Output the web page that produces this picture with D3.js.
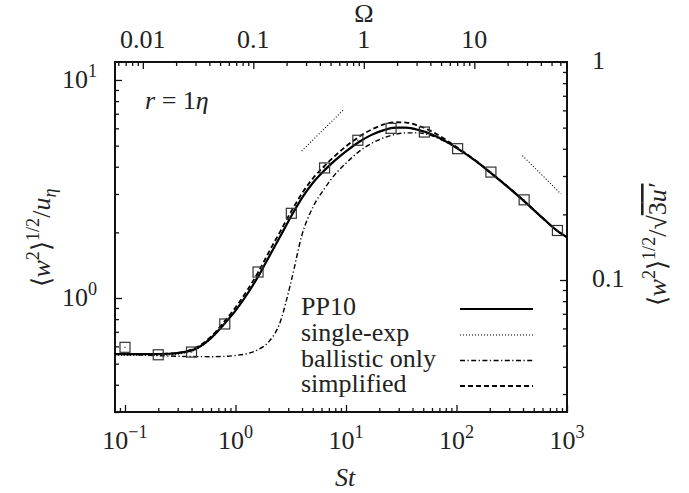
<!DOCTYPE html>
<html>
<head>
<meta charset="utf-8">
<script src="https://cdn.jsdelivr.net/npm/d3@7"></script>
<style>
  html, body { margin: 0; padding: 0; background: #fff; }
</style>
</head>
<body>
<svg id="chart" width="689" height="493"></svg>
<script>
// Stokes-number grid shared by the model curves
const stGrid = [0.0812, 0.15, 0.25, 0.4, 0.6, 0.8, 1.0, 1.3, 1.6, 2.0, 2.5, 3.2, 4.0, 5.0, 6.4, 8.0, 10,
                13, 17, 22, 28, 35, 45, 60, 80, 100, 150, 200, 300, 400, 600, 800, 1000];

// Model curves: <w^2>^{1/2}/u_eta at r = 1 eta
const pp10       = [0.553, 0.553, 0.555, 0.575, 0.655, 0.765, 0.875, 1.057, 1.253, 1.539, 1.889, 2.377, 2.88, 3.37, 3.86, 4.29, 4.71,
                    5.18, 5.60, 5.89, 6.04, 6.04, 5.90, 5.62, 5.23, 4.88, 4.24, 3.78, 3.19, 2.81, 2.33, 2.05, 1.90];
const singleExp  = [0.546, 0.546, 0.549, 0.569, 0.65, 0.762, 0.873, 1.055, 1.251, 1.537, 1.887, 2.375, 2.878, 3.368, 3.858, 4.288, 4.705,
                    5.17, 5.59, 5.88, 6.02, 6.02, 5.89, 5.62, 5.23, 4.88, 4.24, 3.78, 3.19, 2.81, 2.33, 2.05, 1.90];
const ballistic  = [0.552, 0.547, 0.542, 0.539, 0.538, 0.54, 0.545, 0.557, 0.58, 0.63, 0.76, 1.20, 1.95, 2.60, 3.18, 3.70, 4.15,
                    4.68, 5.12, 5.43, 5.63, 5.72, 5.72, 5.55, 5.20, 4.88, 4.24, 3.78, 3.19, 2.81, 2.33, 2.05, 1.90];
const simplified = [0.553, 0.553, 0.556, 0.58, 0.665, 0.785, 0.905, 1.10, 1.31, 1.62, 1.99, 2.50, 3.02, 3.53, 4.04, 4.50, 4.96,
                    5.47, 5.92, 6.25, 6.40, 6.38, 6.17, 5.80, 5.32, 4.93, 4.26, 3.79, 3.20, 2.81, 2.33, 2.05, 1.90];

// DNS data points
const dnsSt = [0.1, 0.2, 0.4, 0.8, 1.6, 3.2, 6.4, 12.8, 25.6, 51.2, 102.4, 204.8, 409.6, 819.2];
const dnsW  = [0.594, 0.549, 0.565, 0.76, 1.316, 2.446, 3.95, 5.29, 6.00, 5.77, 4.84, 3.78, 2.82, 2.04];

// Power-law guides: St^{1/2} and St^{-1/2}
const slopeUpSt = [3.97, 9.66],  slopeUpW = [4.72, 7.36];
const slopeDnSt = [395, 883],    slopeDnW = [4.5, 3.0];

// Axis tick labels
const stTicks = [0.1, 1, 10, 100, 1000];
const stTickExp = ["\u22121", "0", "1", "2", "3"];
const wTicks = [1, 10];
const wTickExp = ["0", "1"];
const omegaTicks = [0.01, 0.1, 1, 10];
const omegaLabels = ["0.01", "0.1", "1", "10"];
const rightTicks = [0.1, 1];
const rightLabels = ["0.1", "1"];

const legendNames = ["PP10", "single-exp", "ballistic only", "simplified"];

// Scale factors relating the secondary axes
const omegaRatio = 14.5;     // St / Omega
const rightRatio = 12.09;    // u_eta-normalised / sqrt(3)u'-normalised

// Pick the first installed serif face (falls back to the generic family)
function pickFont(candidates) {
  const ctx = document.createElement("canvas").getContext("2d");
  const probe = "ballistic only 0.01 PP10";
  ctx.font = "40px __nofont__, monospace";
  const base = ctx.measureText(probe).width;
  for (const name of candidates) {
    ctx.font = `40px "${name}", __nofont__, monospace`;
    if (Math.abs(ctx.measureText(probe).width - base) > 0.5) return `"${name}"`;
  }
  return "serif";
}
const FONT = pickFont(["Liberation Serif", "Tinos", "Times New Roman", "Times", "DejaVu Serif",
                       "Noto Serif", "FreeSerif", "Nimbus Roman", "Nimbus Roman No9 L", "serif"]);

const svg = d3.select("#chart");
const L = 115, R = 567, T = 62, B = 412;
const FS = 26;
const INK = "#222";

const x = d3.scaleLog().domain([0.0812, 1000]).range([L, R]);
const y = d3.scaleLog().domain([0.300, 12.09]).range([B, T]);
const yR = d3.scaleLog().domain([0.300 / rightRatio, 12.09 / rightRatio]).range([B, T]);
const xO = d3.scaleLog().domain([0.0812 / omegaRatio, 1000 / omegaRatio]).range([L, R]);

function minorTicks(scale) {
  const [a, b] = scale.domain();
  const out = [];
  for (let e = Math.floor(Math.log10(a)); e <= Math.ceil(Math.log10(b)); e++) {
    for (let m = 2; m <= 9; m++) {
      const v = m * Math.pow(10, e);
      if (v >= a && v <= b) out.push(v);
    }
  }
  return out;
}
function majorTicks(scale) {
  const [a, b] = scale.domain();
  const out = [];
  for (let e = Math.floor(Math.log10(a)); e <= Math.ceil(Math.log10(b)); e++) {
    const v = Math.pow(10, e);
    if (v >= a * 0.999 && v <= b * 1.001) out.push(v);
  }
  return out;
}

// Inward tick marks on all four sides
function drawTicks(axisFn, scale, transform) {
  const g1 = svg.append("g").attr("transform", transform)
    .call(axisFn(scale).tickValues(majorTicks(scale)).tickSize(-7).tickFormat(""));
  const g2 = svg.append("g").attr("transform", transform)
    .call(axisFn(scale).tickValues(minorTicks(scale)).tickSize(-4).tickFormat(""));
  [g1, g2].forEach(g => {
    g.select(".domain").remove();
    g.selectAll("line").attr("stroke", "#111").attr("stroke-width", 1.3);
  });
}
drawTicks(d3.axisBottom, x, `translate(0,${B})`);
drawTicks(d3.axisTop, xO, `translate(0,${T})`);
drawTicks(d3.axisLeft, y, `translate(${L},0)`);
drawTicks(d3.axisRight, yR, `translate(${R},0)`);

// Frame
svg.append("rect").attr("x", L).attr("y", T).attr("width", R - L).attr("height", B - T)
  .attr("fill", "none").attr("stroke", "#111").attr("stroke-width", 2);

function label(px, py, size) {
  return svg.append("text").attr("x", px).attr("y", py).attr("font-size", size)
    .style("font-family", FONT).attr("fill", INK);
}

// Text with super/subscripts
function rich(sel, parts, base) {
  let shift = 0;
  parts.forEach(p => {
    const target = p.sup ? -base * 0.42 : p.sub ? base * 0.22 : 0;
    const ts = sel.append("tspan").text(p.t).attr("dy", target - shift);
    shift = target;
    if (p.sup || p.sub) ts.attr("font-size", base * 0.7);
    if (p.it) ts.attr("font-style", "italic");
    if (p.over) ts.style("text-decoration", "overline");
  });
}

// Bottom St labels
stTicks.forEach((v, i) => {
  const t = label(x(v), 449, FS).attr("text-anchor", "middle");
  rich(t, [{t: "10"}, {t: stTickExp[i], sup: true}], FS);
});
label(345, 486, FS).attr("text-anchor", "middle").attr("font-style", "italic").text("St");

// Left labels
wTicks.forEach((v, i) => {
  const t = label(97, y(v) + 8, FS).attr("text-anchor", "end");
  rich(t, [{t: "10"}, {t: wTickExp[i], sup: true}], FS);
});

// Top Omega labels
omegaTicks.forEach((v, i) => {
  label(xO(v), 48, FS).attr("text-anchor", "middle").text(omegaLabels[i]);
});
label(364, 22, FS).attr("text-anchor", "middle").text("\u03A9");

// Right labels
rightTicks.forEach((v, i) => {
  label(592, yR(v) + 7, FS).attr("text-anchor", "start").text(rightLabels[i]);
});

// Axis titles
const lt = label(0, 0, FS).attr("transform", "translate(50,238) rotate(-90)").attr("text-anchor", "middle");
rich(lt, [{t: "\u27E8"}, {t: "w", it: true}, {t: "2", sup: true}, {t: "\u27E9"}, {t: "1/2", sup: true},
          {t: "/"}, {t: "u", it: true}, {t: "\u03B7", it: true, sub: true}], FS);

const rt = label(0, 0, FS).attr("transform", "translate(666,245) rotate(-90)").attr("text-anchor", "middle");
rich(rt, [{t: "\u27E8"}, {t: "w", it: true}, {t: "2", sup: true}, {t: "\u27E9"}, {t: "1/2", sup: true},
          {t: "/\u221A"}, {t: "3", over: true}, {t: "u\u2032", it: true, over: true}], FS);

// Annotation
const ann = label(145, 109, FS);
rich(ann, [{t: "r", it: true}, {t: " = 1"}, {t: "\u03B7", it: true}], FS);

// Curves
svg.append("clipPath").attr("id", "plotclip").append("rect")
  .attr("x", L).attr("y", T).attr("width", R - L).attr("height", B - T);
const plot = svg.append("g").attr("clip-path", "url(#plotclip)");

const line = d3.line().x(d => x(d[0])).y(d => y(d[1])).curve(d3.curveMonotoneX);
const styles = {
  "PP10":           {w: 2.2, dash: null},
  "single-exp":     {w: 1.1, dash: "1,2"},
  "ballistic only": {w: 1.4, dash: "5,2.5,1.2,2.5"},
  "simplified":     {w: 1.8, dash: "5,3"}
};
const series = [
  ["single-exp", singleExp],
  ["ballistic only", ballistic],
  ["simplified", simplified],
  ["PP10", pp10]
];
series.forEach(([name, vals]) => {
  const st = styles[name];
  plot.append("path").datum(stGrid.map((s, i) => [s, vals[i]]))
    .attr("d", line).attr("fill", "none").attr("stroke", "#000")
    .attr("stroke-width", st.w).attr("stroke-dasharray", st.dash);
});

// Slope guides
[[slopeUpSt, slopeUpW], [slopeDnSt, slopeDnW]].forEach(([s, w]) => {
  plot.append("path").datum(s.map((v, i) => [v, w[i]]))
    .attr("d", d3.line().x(d => x(d[0])).y(d => y(d[1])))
    .attr("fill", "none").attr("stroke", "#000").attr("stroke-width", 1.1).attr("stroke-dasharray", "1,2");
});

// DNS squares
const sq = 10;
const pts = plot.selectAll("g.pt").data(dnsSt.map((s, i) => [s, dnsW[i]])).join("g").attr("class", "pt");
pts.append("rect").attr("x", d => x(d[0]) - sq / 2).attr("y", d => y(d[1]) - sq / 2)
  .attr("width", sq).attr("height", sq).attr("fill", "none").attr("stroke", "#333").attr("stroke-width", 1.2);
pts.append("rect").attr("x", d => x(d[0]) - 0.6).attr("y", d => y(d[1]) - 0.6)
  .attr("width", 1.2).attr("height", 1.2).attr("fill", "#333");

// Legend
const legY = [315, 341, 366.5, 392];
legendNames.forEach((name, i) => {
  label(301, legY[i], FS).text(name);
  const st = styles[name];
  svg.append("line").attr("x1", 460).attr("x2", 533).attr("y1", legY[i] - 6).attr("y2", legY[i] - 6)
    .attr("stroke", "#000").attr("stroke-width", st.w).attr("stroke-dasharray", st.dash);
});
</script>
</body>
</html>
